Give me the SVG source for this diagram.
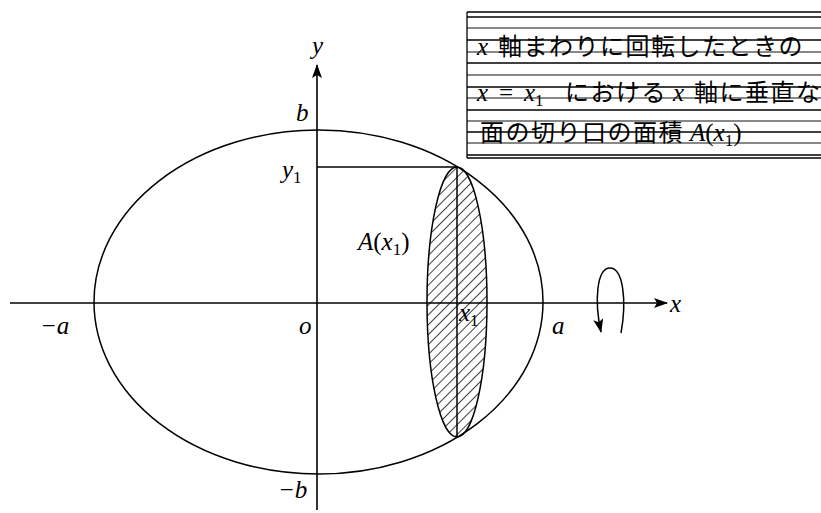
<svg xmlns="http://www.w3.org/2000/svg" width="821" height="513" viewBox="0 0 821 513">
<style>
.ln{fill:none;stroke:#000;stroke-width:1.5}
.ax{fill:none;stroke:#000;stroke-width:1.6}
.m{font-family:"Liberation Serif",serif;font-style:italic;font-size:25px;fill:#000}
.r{font-family:"Liberation Serif",serif;font-style:normal;font-size:25px;fill:#000}
.s{font-family:"Liberation Serif",serif;font-style:normal;font-size:17px;fill:#000}
.j{font-family:"Noto Sans CJK JP",sans-serif;font-size:24px;letter-spacing:1.5px;fill:#000}
.bl{stroke:#000;stroke-width:1.3}
.gl{stroke:#888;stroke-width:2}
</style>
<defs>
<marker id="ar" markerWidth="14" markerHeight="10" refX="13" refY="5" orient="auto" markerUnits="userSpaceOnUse">
<path d="M0,0 L14,5 L0,10 L3,5 Z" fill="#000"/>
</marker>
<pattern id="hatch" width="7" height="7" patternUnits="userSpaceOnUse" patternTransform="rotate(45)">
<line x1="0" y1="0" x2="0" y2="7" stroke="#000" stroke-width="1.5"/>
</pattern>
<clipPath id="cs"><ellipse cx="457" cy="302" rx="30" ry="135"/></clipPath>
</defs>

<g id="textbox">
<line class="bl" x1="467" y1="12" x2="821" y2="12"/>
<line class="bl" x1="467" y1="17" x2="821" y2="17"/>
<line class="gl" x1="467" y1="28" x2="821" y2="28"/>
<line class="bl" x1="467" y1="40" x2="821" y2="40"/>
<line class="gl" x1="467" y1="52" x2="821" y2="52"/>
<line class="bl" x1="467" y1="63" x2="821" y2="63"/>
<line class="gl" x1="467" y1="75" x2="821" y2="75"/>
<line class="bl" x1="467" y1="87" x2="821" y2="87"/>
<line class="gl" x1="467" y1="98" x2="821" y2="98"/>
<line class="bl" x1="467" y1="110" x2="821" y2="110"/>
<line class="gl" x1="467" y1="121" x2="821" y2="121"/>
<line class="bl" x1="467" y1="132" x2="821" y2="132"/>
<line class="gl" x1="467" y1="143" x2="821" y2="143"/>
<line class="bl" x1="467" y1="155" x2="821" y2="155"/>
<line class="bl" x1="467" y1="158" x2="821" y2="158"/>
<line class="bl" x1="467" y1="12" x2="467" y2="158"/>
<text x="477" y="55"><tspan class="m">x</tspan><tspan class="j" x="498">軸まわりに回転したときの</tspan></text>
<text x="477" y="101"><tspan class="m">x</tspan><tspan class="r" x="499">=</tspan><tspan class="m" x="524">x</tspan><tspan class="s" dy="5">1</tspan><tspan class="j" x="565" dy="-5" letter-spacing="0">における</tspan><tspan class="m" x="673">x</tspan><tspan class="j" x="694">軸に垂直な</tspan></text>
<text x="480" y="141"><tspan class="j">面の切り口の面積</tspan><tspan class="m" x="690">A</tspan><tspan class="r">(</tspan><tspan class="m">x</tspan><tspan class="s" dy="5">1</tspan><tspan class="r" dy="-5">)</tspan></text>
</g>

<g id="ellipse">
<ellipse class="ln" cx="318.5" cy="302" rx="224.5" ry="172"/>
</g>

<g id="section">
<rect x="420" y="160" width="75" height="285" fill="url(#hatch)" clip-path="url(#cs)"/>
<ellipse class="ln" cx="457" cy="302" rx="30" ry="135"/>
<line class="ln" x1="457" y1="167" x2="457" y2="437"/>
</g>

<g id="connectors">
<line class="ax" x1="10" y1="303" x2="667" y2="303" marker-end="url(#ar)"/>
<line class="ax" x1="317" y1="510" x2="317" y2="65" marker-end="url(#ar)"/>
<line class="ln" x1="317" y1="167" x2="457" y2="167"/>
<path class="ln" d="M621,333 C627,300 623,268 610,268 C597,268 594,300 601,332" marker-end="url(#ar)"/>
</g>

<g id="labels">
<text class="m" x="670" y="312">x</text>
<text class="m" x="312" y="54">y</text>
<text class="m" x="296" y="121">b</text>
<text class="m" x="282" y="178">y<tspan class="s" dy="5">1</tspan></text>
<text class="m" x="40" y="334">−a</text>
<text class="m" x="299" y="334">o</text>
<text class="m" x="459" y="321">x<tspan class="s" dy="5">1</tspan></text>
<text class="m" x="552" y="334">a</text>
<text class="m" x="278" y="498">−b</text>
<text class="m" x="358" y="250">A<tspan class="r">(</tspan>x<tspan class="s" dy="5">1</tspan><tspan class="r" dy="-5">)</tspan></text>
</g>
</svg>
